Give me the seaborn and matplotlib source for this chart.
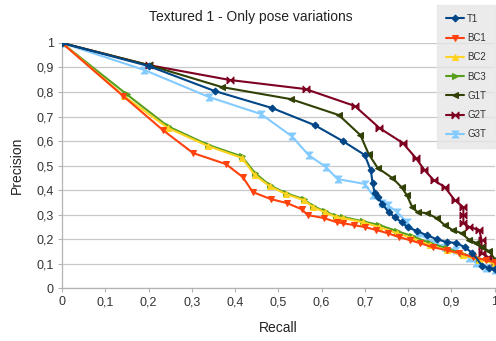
import matplotlib
matplotlib.use("Agg")
import matplotlib.pyplot as plt
import seaborn as sns
import pandas as pd

# Precision / recall curves
t1_recall = [0, 0.2, 0.353, 0.485, 0.584, 0.649, 0.70, 0.714, 0.718, 0.723, 0.73, 0.741, 0.755,
             0.769, 0.785, 0.799, 0.82, 0.843, 0.866, 0.889, 0.912, 0.931, 0.949, 0.972, 0.988, 1.0]
t1_precision = [1, 0.906, 0.804, 0.735, 0.665, 0.6, 0.543, 0.48, 0.43, 0.388, 0.371, 0.343, 0.31,
                0.29, 0.269, 0.249, 0.233, 0.216, 0.2, 0.188, 0.184, 0.167, 0.143, 0.09, 0.082, 0.078]

bc1_recall = [0, 0.141, 0.233, 0.303, 0.379, 0.418, 0.441, 0.483, 0.52, 0.554, 0.568, 0.605, 0.635,
              0.649, 0.675, 0.70, 0.727, 0.753, 0.78, 0.804, 0.827, 0.857, 0.889, 0.919, 0.95, 0.98, 1.0]
bc1_precision = [1, 0.784, 0.645, 0.551, 0.506, 0.453, 0.392, 0.363, 0.347, 0.322, 0.298, 0.286, 0.269,
                 0.265, 0.257, 0.249, 0.237, 0.224, 0.208, 0.196, 0.184, 0.167, 0.155, 0.143, 0.127, 0.114, 0.106]

bc2_recall = [0, 0.143, 0.245, 0.337, 0.416, 0.446, 0.48, 0.517, 0.559, 0.58, 0.607, 0.633,
              0.649, 0.695, 0.734, 0.774, 0.81, 0.85, 0.889, 0.926, 0.965, 1.0]
bc2_precision = [1, 0.784, 0.653, 0.58, 0.531, 0.461, 0.416, 0.384, 0.359, 0.331, 0.31, 0.29,
                 0.286, 0.269, 0.249, 0.224, 0.204, 0.176, 0.155, 0.135, 0.114, 0.102]

bc3_recall = [0, 0.15, 0.245, 0.337, 0.416, 0.446, 0.48, 0.517, 0.559, 0.58, 0.607, 0.633,
              0.65, 0.695, 0.734, 0.774, 0.81, 0.85, 0.889, 0.926, 0.965, 1.0]
bc3_precision = [1, 0.79, 0.66, 0.585, 0.537, 0.47, 0.42, 0.388, 0.363, 0.335, 0.314, 0.294,
                 0.29, 0.273, 0.257, 0.233, 0.212, 0.184, 0.163, 0.14, 0.12, 0.105]

g1t_recall = [0, 0.2, 0.37, 0.529, 0.64, 0.69, 0.709, 0.73, 0.764, 0.785, 0.797, 0.81, 0.822,
              0.843, 0.866, 0.885, 0.903, 0.924, 0.942, 0.958, 0.972, 0.988, 1.0]
g1t_precision = [1, 0.91, 0.82, 0.771, 0.706, 0.624, 0.547, 0.49, 0.449, 0.412, 0.38, 0.33, 0.31,
                 0.306, 0.286, 0.257, 0.237, 0.224, 0.196, 0.184, 0.167, 0.15, 0.12]

g2t_recall = [0, 0.2, 0.388, 0.563, 0.677, 0.734, 0.788, 0.818, 0.838, 0.859, 0.885, 0.908,
              0.928, 0.928, 0.928, 0.942, 0.965, 0.97, 0.97, 0.97, 0.985, 1.0]
g2t_precision = [1, 0.91, 0.849, 0.812, 0.743, 0.653, 0.592, 0.531, 0.482, 0.441, 0.412, 0.359,
                 0.33, 0.3, 0.265, 0.249, 0.237, 0.196, 0.17, 0.143, 0.126, 0.106]

g3t_recall = [0, 0.19, 0.339, 0.46, 0.531, 0.57, 0.61, 0.637, 0.70, 0.718, 0.741, 0.753, 0.775,
              0.797, 0.82, 0.843, 0.866, 0.885, 0.912, 0.942, 0.958, 0.98, 1.0]
g3t_precision = [1, 0.89, 0.78, 0.71, 0.62, 0.543, 0.494, 0.445, 0.425, 0.38, 0.347, 0.339, 0.31,
                 0.269, 0.224, 0.204, 0.184, 0.167, 0.155, 0.122, 0.102, 0.082, 0.073]

names = ["T1", "BC1", "BC2", "BC3", "G1T", "G2T", "G3T"]
recalls = [t1_recall, bc1_recall, bc2_recall, bc3_recall, g1t_recall, g2t_recall, g3t_recall]
precisions = [t1_precision, bc1_precision, bc2_precision, bc3_precision,
              g1t_precision, g2t_precision, g3t_precision]

colors = ["#004586", "#ff420e", "#ffd320", "#579d1c", "#314004", "#7e0021", "#83caff"]
bowtie_h = [(-1, -1), (1, 1), (1, -1), (-1, 1), (-1, -1)]
bowtie_v = [(-1, -1), (1, 1), (-1, 1), (1, -1), (-1, -1)]
markers = ["D", "v", "^", ">", "<", bowtie_h, bowtie_v]
msizes = [3.5, 4.5, 4.5, 4.5, 4.5, 5, 5]

sns.set_theme(style="white")
plt.rcParams["font.family"] = ["Liberation Sans", "DejaVu Sans"]

fig = plt.figure(figsize=(4.96, 3.41), dpi=100)
ax = fig.add_axes([0.125, 0.155, 0.872, 0.719])

for i in range(len(names) - 1, -1, -1):
    df = pd.DataFrame({"Recall": recalls[i], "Precision": precisions[i]})
    sns.lineplot(data=df, x="Recall", y="Precision", ax=ax, sort=False, estimator=None,
                 color=colors[i], marker=markers[i], markersize=msizes[i],
                 markeredgecolor=colors[i], linewidth=1.5, label=names[i], zorder=10 - i)

ax.set_xlim(0, 1)
ax.set_ylim(0, 1)
ticks = [i / 10 for i in range(11)]
ticklabels = ["0"] + ["0," + str(i) for i in range(1, 10)] + ["1"]
ax.set_xticks(ticks)
ax.set_xticklabels(ticklabels)
ax.set_yticks(ticks)
ax.set_yticklabels(ticklabels)
ax.tick_params(axis="both", labelsize=9, colors="#333333", length=3, width=0.8,
               direction="out", bottom=True, left=True, pad=3)
ax.tick_params(axis="both", color="#b3b3b3")
ax.yaxis.grid(True, color="#c8c8c8", linewidth=0.9)
ax.xaxis.grid(False)
for side in ["top", "right"]:
    ax.spines[side].set_visible(False)
for side in ["left", "bottom"]:
    ax.spines[side].set_color("#b3b3b3")
    ax.spines[side].set_linewidth(0.9)

ax.set_xlabel("Recall", fontsize=10, color="#222222", labelpad=9)
ax.set_ylabel("Precision", fontsize=10, color="#222222", labelpad=9)
fig.text(0.505, 0.95, "Textured 1 - Only pose variations", ha="center", va="center",
         fontsize=10, color="#222222")

handles, labels = ax.get_legend_handles_labels()
order = [labels.index(n) for n in names]
ax.get_legend().remove()
leg = fig.legend([handles[k] for k in order], [labels[k] for k in order],
                 loc="upper left", bbox_to_anchor=(0.881, 0.985), fontsize=7,
                 frameon=True, fancybox=False, borderpad=0.9, labelspacing=0.95,
                 handlelength=1.9, handletextpad=0.3, borderaxespad=0)
leg.get_frame().set_facecolor("#e6e6e6")
leg.get_frame().set_edgecolor("#e6e6e6")
leg.set_zorder(20)
for t in leg.get_texts():
    t.set_color("#333333")

fig.savefig("out.png", dpi=100)
